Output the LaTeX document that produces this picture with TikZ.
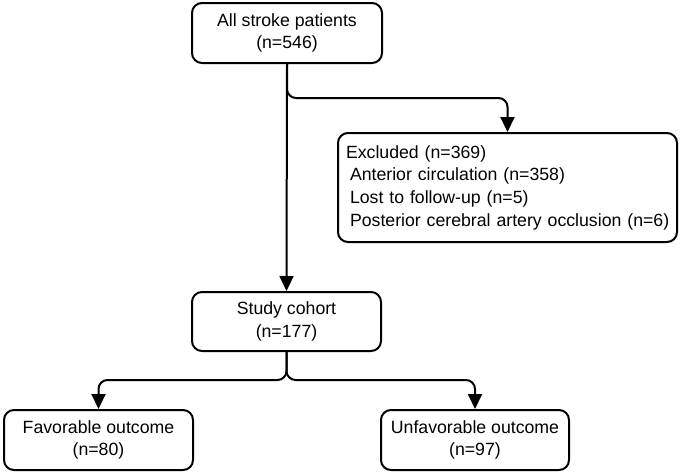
\documentclass[tikz,border=0pt]{standalone}
\usepackage{fontspec}
\setmainfont{Liberation Sans}
\usetikzlibrary{arrows.meta}
\begin{document}
\begin{tikzpicture}[x=1pt,y=-1pt,
  box/.style={draw=black, line width=2pt, rounded corners=10pt, align=center,
    font=\fontsize{17.7}{22.7}\selectfont, inner sep=0pt},
  conn/.style={line width=2pt, rounded corners=9pt, -{Triangle[width=14pt,length=15pt]}}]
\useasboundingbox (0,0) rectangle (680,474);
\node[box, minimum width=190pt, minimum height=60pt] (top) at (287,33) {All stroke patients\\(n=546)};
\node[box, minimum width=339pt, minimum height=109pt, text width=323pt, align=left] (excl) at (507.5,187.5)
  {\mbox{Excluded (n=369)}\\\mbox{\hspace{4pt}Anterior circulation (n=358)}\\\mbox{\hspace{4pt}Lost to follow-up (n=5)}\\\mbox{\hspace{4pt}Posterior cerebral artery occlusion (n=6)}};
\node[box, minimum width=189pt, minimum height=59pt] (study) at (286.5,321.5) {Study cohort\\(n=177)};
\node[box, minimum width=189pt, minimum height=60pt] (fav) at (98.5,440) {Favorable outcome\\(n=80)};
\node[box, minimum width=188pt, minimum height=60pt] (unfav) at (475,440) {Unfavorable outcome\\(n=97)};
\coordinate (b1) at (top.south |- 0,98);
\coordinate (b2) at (study.south |- 0,380);
\draw[conn] (top.south) -- (study.north);
\draw[conn] (top.south) -- (b1) -| (excl.north);
\draw[conn] (study.south) -- (b2) -| (fav.north);
\draw[conn] (study.south) -- (b2) -| (unfav.north);
\end{tikzpicture}
\end{document}
